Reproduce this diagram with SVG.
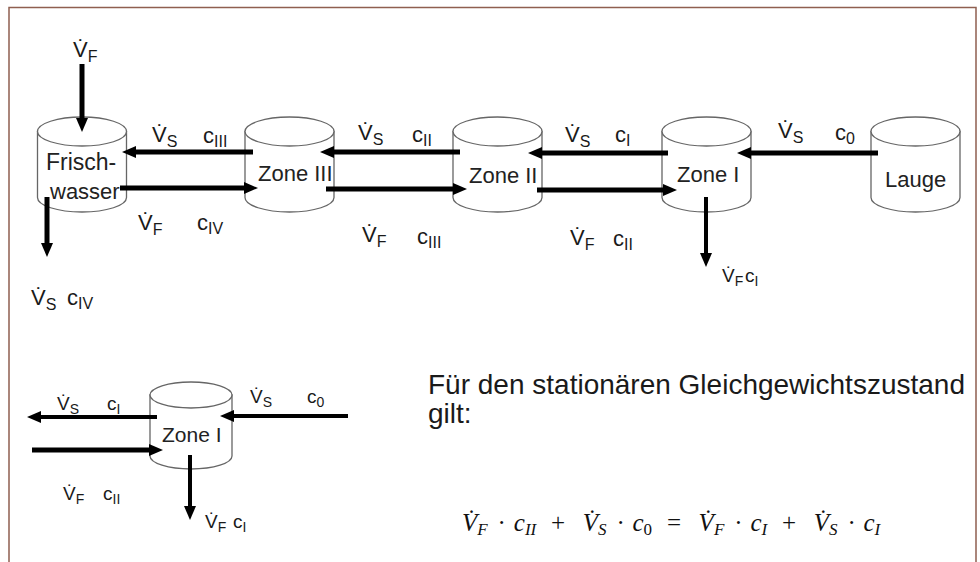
<svg xmlns="http://www.w3.org/2000/svg" xmlns:xlink="http://www.w3.org/1999/xlink" width="980" height="562" viewBox="0 0 980 562">
  <style>
    .frame { fill: none; stroke: #8f5f50; stroke-width: 1.5; }
    .cyl { fill: #ffffff; stroke: #666666; stroke-width: 1.3; }
    .name { font-family: "Liberation Sans", Arial, sans-serif; font-size: 22px; fill: #222222; }
    .flow { fill: none; stroke: #000000; stroke-width: 5; marker-end: url(#head); }
    .flow.thin { stroke-width: 4; }
    .lbl { font-family: "Liberation Sans", Arial, sans-serif; font-size: 22px; fill: #1a1a1a; }
    .lbl.sm { font-size: 19px; }
    .sub { font-size: 16px; }
    .sm .sub { font-size: 14px; }
    .note { font-family: "Liberation Sans", Arial, sans-serif; font-size: 28px; fill: #1a1a1a; }
    .eq { font-family: "Liberation Serif", "Times New Roman", serif; font-size: 25px; font-style: italic; fill: #111111; }
    .eq .es { font-size: 17px; }
    .eq .up { font-style: normal; }
  </style>
  <defs>
    <marker id="head" viewBox="0 0 14 12" markerWidth="14" markerHeight="12" markerUnits="userSpaceOnUse" refX="1" refY="6" orient="auto">
      <path d="M0,0 L14,6 L0,12 Z" fill="#000000"/>
    </marker>
    <!-- tank: top ellipse centred on the origin -->
    <g id="tank">
      <path class="cyl" d="M-44.5,0 L-44.5,66 A44.5,14.5 0 0 0 44.5,66 L44.5,0 Z"/>
      <ellipse class="cyl" cx="0" cy="0" rx="44.5" ry="14.5"/>
    </g>
  </defs>

  <rect width="980" height="562" fill="#ffffff"/>
  <path class="frame" d="M9,562 L9,7.5 L976,7.5 L976,562"/>

  <!-- cascade of tanks -->
  <g id="frischwasser">
    <use xlink:href="#tank" x="82" y="131.5"/>
    <text class="name" x="46" y="170" style="font-size:23px">Frisch-</text>
    <text class="name" x="50" y="199">wasser</text>
  </g>
  <g id="zone3">
    <use xlink:href="#tank" x="289.5" y="131.5"/>
    <text class="name" x="258" y="181">Zone III</text>
  </g>
  <g id="zone2">
    <use xlink:href="#tank" x="497.5" y="131.5"/>
    <text class="name" x="469" y="183">Zone II</text>
  </g>
  <g id="zone1">
    <use xlink:href="#tank" x="706.5" y="131.5"/>
    <text class="name" x="677" y="182">Zone I</text>
  </g>
  <g id="lauge">
    <use xlink:href="#tank" x="915.5" y="131.5"/>
    <text class="name" x="885" y="187">Lauge</text>
  </g>

  <!-- single stage -->
  <g id="zone1-detail">
    <path class="cyl" d="M150,395 L150,456 A41,13 0 0 0 232,456 L232,395 Z"/>
    <ellipse class="cyl" cx="191" cy="395" rx="41" ry="13"/>
    <text class="name" x="162" y="442" style="font-size:21px">Zone I</text>
  </g>

  <!-- flows -->
  <g id="connectors">
    <line class="flow" x1="82" y1="64" x2="82" y2="119"/>
    <line class="flow" x1="253" y1="152" x2="135" y2="152"/>
    <line class="flow" x1="120" y1="188" x2="245" y2="188"/>
    <line class="flow" x1="47" y1="197" x2="47" y2="244"/>
    <line class="flow" x1="460" y1="152" x2="333" y2="152"/>
    <line class="flow" x1="326" y1="189" x2="454" y2="189"/>
    <line class="flow" x1="668" y1="153" x2="541" y2="153"/>
    <line class="flow" x1="537" y1="190" x2="664" y2="190"/>
    <line class="flow" x1="878" y1="153" x2="750" y2="153"/>
    <line class="flow thin" x1="706" y1="197" x2="706" y2="254"/>

    <line class="flow thin" x1="157" y1="417" x2="40" y2="417"/>
    <line class="flow" x1="32" y1="450" x2="150" y2="450"/>
    <line class="flow thin" x1="348" y1="416" x2="233" y2="416"/>
    <line class="flow thin" x1="190" y1="455" x2="190" y2="507"/>
  </g>

  <!-- flow labels -->
  <g id="labels">
    <text class="lbl" x="73" y="57">V&#x307;<tspan class="sub" dy="5">F</tspan></text>
    <text class="lbl" x="152" y="142">V&#x307;<tspan class="sub" dy="5">S</tspan></text>
    <text class="lbl" x="203" y="143">c<tspan class="sub" dy="4">III</tspan></text>
    <text class="lbl" x="138" y="230">V&#x307;<tspan class="sub" dy="5">F</tspan></text>
    <text class="lbl" x="197" y="230">c<tspan class="sub" dy="4">IV</tspan></text>
    <text class="lbl" x="31" y="305">V&#x307;<tspan class="sub" dy="5">S</tspan></text>
    <text class="lbl" x="67" y="305">c<tspan class="sub" dy="4">IV</tspan></text>

    <text class="lbl" x="358" y="140">V&#x307;<tspan class="sub" dy="5">S</tspan></text>
    <text class="lbl" x="412" y="142">c<tspan class="sub" dy="4">II</tspan></text>
    <text class="lbl" x="362" y="242">V&#x307;<tspan class="sub" dy="5">F</tspan></text>
    <text class="lbl" x="417" y="244">c<tspan class="sub" dy="4">III</tspan></text>

    <text class="lbl" x="565" y="142">V&#x307;<tspan class="sub" dy="5">S</tspan></text>
    <text class="lbl" x="615" y="142">c<tspan class="sub" dy="4">I</tspan></text>
    <text class="lbl" x="570" y="245">V&#x307;<tspan class="sub" dy="5">F</tspan></text>
    <text class="lbl" x="613" y="246">c<tspan class="sub" dy="4">II</tspan></text>

    <text class="lbl" x="778" y="138">V&#x307;<tspan class="sub" dy="5">S</tspan></text>
    <text class="lbl" x="835" y="140">c<tspan class="sub" dy="4">0</tspan></text>
    <text class="lbl sm" x="722" y="282">V&#x307;<tspan class="sub" dy="4">F</tspan></text>
    <text class="lbl sm" x="745" y="282">c<tspan class="sub" dy="4">I</tspan></text>

    <text class="lbl sm" x="57" y="410">V&#x307;<tspan class="sub" dy="4">S</tspan></text>
    <text class="lbl sm" x="107" y="410">c<tspan class="sub" dy="4">I</tspan></text>
    <text class="lbl sm" x="250" y="403">V&#x307;<tspan class="sub" dy="4">S</tspan></text>
    <text class="lbl sm" x="307" y="403">c<tspan class="sub" dy="4">0</tspan></text>
    <text class="lbl sm" x="63" y="500">V&#x307;<tspan class="sub" dy="4">F</tspan></text>
    <text class="lbl sm" x="103" y="500">c<tspan class="sub" dy="4">II</tspan></text>
    <text class="lbl sm" x="205" y="528">V&#x307;<tspan class="sub" dy="4">F</tspan></text>
    <text class="lbl sm" x="233" y="528">c<tspan class="sub" dy="4">I</tspan></text>
  </g>

  <!-- balance statement -->
  <g id="statement">
    <text class="note" x="428" y="394">Für den stationären Gleichgewichtszustand</text>
    <text class="note" x="428" y="423">gilt:</text>
    <text class="eq">
      <tspan x="462" y="531">V&#x307;</tspan><tspan class="es" x="477.3" y="535">F</tspan>
      <tspan class="up" x="497.6" y="531">·</tspan>
      <tspan x="513.8" y="531">c</tspan><tspan class="es" x="524.9" y="535">II</tspan>
      <tspan class="up" x="551" y="531">+</tspan>
      <tspan x="582.7" y="531">V&#x307;</tspan><tspan class="es" x="598" y="535">S</tspan>
      <tspan class="up" x="616.4" y="531">·</tspan>
      <tspan x="632.5" y="531">c</tspan><tspan class="es up" x="643.6" y="535">0</tspan>
      <tspan class="up" x="666.9" y="531">=</tspan>
      <tspan x="698.6" y="531">V&#x307;</tspan><tspan class="es" x="713.9" y="535">F</tspan>
      <tspan class="up" x="734.2" y="531">·</tspan>
      <tspan x="750.4" y="531">c</tspan><tspan class="es" x="761.5" y="535">I</tspan>
      <tspan class="up" x="782" y="531">+</tspan>
      <tspan x="813.7" y="531">V&#x307;</tspan><tspan class="es" x="829" y="535">S</tspan>
      <tspan class="up" x="847.4" y="531">·</tspan>
      <tspan x="863.5" y="531">c</tspan><tspan class="es" x="874.6" y="535">I</tspan>
    </text>
  </g>
</svg>
